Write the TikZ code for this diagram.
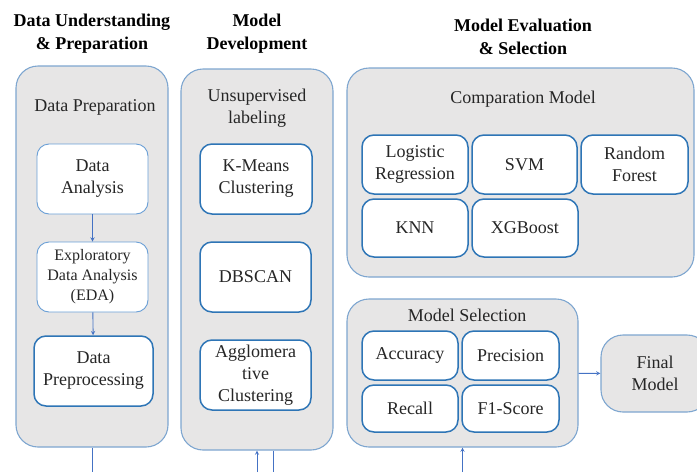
\documentclass[tikz,border=0pt]{standalone}
\usepackage{fontspec}
\setmainfont{Liberation Serif}
\definecolor{panelfill}{HTML}{E7E6E6}
\definecolor{panelline}{HTML}{7EA6D0}
\definecolor{boxdark}{HTML}{2E75B6}
\definecolor{boxlight}{HTML}{6A9FD6}
\definecolor{arrowblue}{HTML}{4472C4}
\definecolor{txt}{HTML}{262626}

\begin{document}
\begin{tikzpicture}[x=1pt, y=-1pt, >=stealth,
    every node/.style={font=\fontsize{18}{22}\selectfont, text=txt, align=center},
    head/.style={font=\bfseries\fontsize{18}{23}\selectfont, text=black},
    panel/.style={draw=panelline, fill=panelfill, line width=1.1pt, rounded corners=22pt},
    darkbox/.style={draw=boxdark, fill=white, line width=1.5pt, rounded corners=12pt},
    lightbox/.style={draw=boxlight, fill=white, line width=0.9pt, rounded corners=12pt},
    flow/.style={->, draw=arrowblue, line width=0.9pt}]
    \useasboundingbox (0,0) rectangle (697,472);

    % headings
    \node[head] (h1) at (92,34) {Data Understanding\\\& Preparation};
    \node[head] (h2) at (257,34) {Model\\Development};
    \node[head] (h3) at (523,37) {Model Evaluation\\\& Selection};

    % panels
    \node[panel, minimum width=152pt, minimum height=381pt] (prep) at (92,256.5) {};
    \node[panel, minimum width=152pt, minimum height=381pt] (dev) at (257,259.5) {};
    \node[panel, minimum width=347pt, minimum height=209pt] (comp) at (520.5,172.5) {};
    \node[panel, minimum width=231pt, minimum height=148pt] (sel) at (462.5,373) {};
    \node[panel, minimum width=108pt, minimum height=77pt] (final) at (655,373.5) {Final\\Model};

    \node (prepl) at (95,107) {Data Preparation};
    \node (devl) at (257,108) {Unsupervised\\labeling};
    \node (compl) at (523,99) {Comparation Model};
    \node (sell) at (467,315) {Model Selection};

    % data preparation
    \node[lightbox, minimum width=111pt, minimum height=70pt] (da) at (92.5,179) {Data\\Analysis};
    \node[lightbox, minimum width=111pt, minimum height=70pt, font=\fontsize{16}{20}\selectfont] (eda) at (92.5,277) {Exploratory\\Data Analysis\\(EDA)};
    \node[darkbox, minimum width=119pt, minimum height=70pt] (pre) at (93.5,371) {Data\\Preprocessing};
    \draw[flow] (da) -- (eda);
    \draw[flow] (eda) -- (pre);

    % clustering
    \node[darkbox, minimum width=112pt, minimum height=70pt] (km) at (256,179) {K-Means\\Clustering};
    \node[darkbox, minimum width=111pt, minimum height=70pt] (db) at (255.5,277) {DBSCAN};
    \node[darkbox, minimum width=111pt, minimum height=70pt] (ag) at (255.5,375) {Agglomera\\tive\\Clustering};

    % models
    \node[darkbox, minimum width=106pt, minimum height=59pt] (lr) at (415,164.5) {Logistic\\Regression};
    \node[darkbox, minimum width=105pt, minimum height=59pt] (svm) at (524.5,164.5) {SVM};
    \node[darkbox, minimum width=107pt, minimum height=59pt] (rf) at (634.5,164.5) {Random\\Forest};
    \node[darkbox, minimum width=106pt, minimum height=58pt] (knn) at (415,228) {KNN};
    \node[darkbox, minimum width=106pt, minimum height=58pt] (xgb) at (525,228) {XGBoost};

    % metrics
    \node[darkbox, minimum width=96pt, minimum height=49pt] (acc) at (410,355.5) {Accuracy};
    \node[darkbox, minimum width=97pt, minimum height=49pt] (prec) at (510.5,355.5) {Precision};
    \node[darkbox, minimum width=96pt, minimum height=47pt] (rec) at (410,408.5) {Recall};
    \node[darkbox, minimum width=97pt, minimum height=47pt] (f1) at (510.5,408.5) {F1-Score};

    \draw[flow] (sel) -- (final);

    % lines leaving the bottom edge
    \coordinate (o1) at (92,472);
    \coordinate (i2) at (257,472);
    \coordinate (o2) at (273,472);
    \coordinate (i4) at (462.5,472);
    \draw[arrowblue, line width=0.9pt] (prep.south) -- (o1);
    \draw[flow] (i2) -- (dev.south);
    \draw[arrowblue, line width=0.9pt] (dev.south -| o2) -- (o2);
    \draw[flow] (i4) -- (sel.south);
\end{tikzpicture}
\end{document}
